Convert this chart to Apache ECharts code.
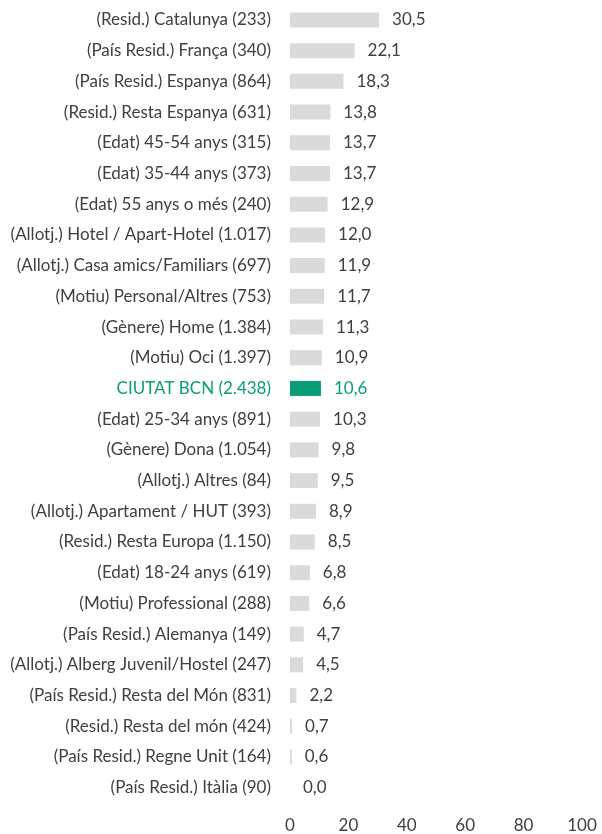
<!DOCTYPE html>
<html><head><meta charset="utf-8">
<script src="https://cdn.jsdelivr.net/npm/echarts@6/dist/echarts.min.js"></script>
<style>html,body{margin:0;padding:0;background:#fff}#c{width:602px;height:834px}</style>
</head><body><div id="c"></div>
<script>
const categories = [
 "(Resid.) Catalunya (233)","(País Resid.) França (340)","(País Resid.) Espanya (864)","(Resid.) Resta Espanya (631)",
 "(Edat) 45-54 anys (315)","(Edat) 35-44 anys (373)","(Edat) 55 anys o més (240)","(Allotj.) Hotel / Apart-Hotel (1.017)",
 "(Allotj.) Casa amics/Familiars (697)","(Motiu) Personal/Altres (753)","(Gènere) Home (1.384)","(Motiu) Oci (1.397)",
 "CIUTAT BCN (2.438)","(Edat) 25-34 anys (891)","(Gènere) Dona (1.054)","(Allotj.) Altres (84)",
 "(Allotj.) Apartament / HUT (393)","(Resid.) Resta Europa (1.150)","(Edat) 18-24 anys (619)","(Motiu) Professional (288)",
 "(País Resid.) Alemanya (149)","(Allotj.) Alberg Juvenil/Hostel (247)","(País Resid.) Resta del Món (831)","(Resid.) Resta del món (424)",
 "(País Resid.) Regne Unit (164)","(País Resid.) Itàlia (90)"
];
const values = [30.5,22.1,18.3,13.8,13.7,13.7,12.9,12.0,11.9,11.7,11.3,10.9,10.6,10.3,9.8,9.5,8.9,8.5,6.8,6.6,4.7,4.5,2.2,0.7,0.6,0.0];
const highlight = "CIUTAT BCN (2.438)";
const xTicks = [0,20,40,60,80,100];

const GREEN = "#0a9e78", GRAY = "#dadadb", TEXT = "#404040";
const FONT = "Lato";
const FS = 17;
const chart = echarts.init(document.getElementById('c'));
chart.setOption({
  animation:false,
  grid:{left:290,right:20,top:4.6,bottom:30.6,containLabel:false},
  xAxis:{type:'value',min:xTicks[0],max:xTicks[xTicks.length-1],interval:20,
    axisLine:{show:false},axisTick:{show:false},splitLine:{show:false},
    axisLabel:{color:TEXT,fontFamily:FONT,fontSize:FS,margin:14}},
  yAxis:{type:'category',inverse:true,data:categories,
    axisLine:{show:false},axisTick:{show:false},
    axisLabel:{fontFamily:FONT,fontSize:FS,margin:19,
      color:(v)=> v===highlight?GREEN:TEXT}},
  series:[{type:'bar',barWidth:15,
    data:values.map((v,i)=>({value:v,itemStyle:{color:categories[i]===highlight?GREEN:GRAY},
      label:{color:categories[i]===highlight?GREEN:TEXT}})),
    label:{show:true,position:'right',distance:13,fontFamily:FONT,fontSize:FS,
      formatter:(p)=>p.value.toFixed(1).replace('.',',')}}]
});
</script></body></html>
